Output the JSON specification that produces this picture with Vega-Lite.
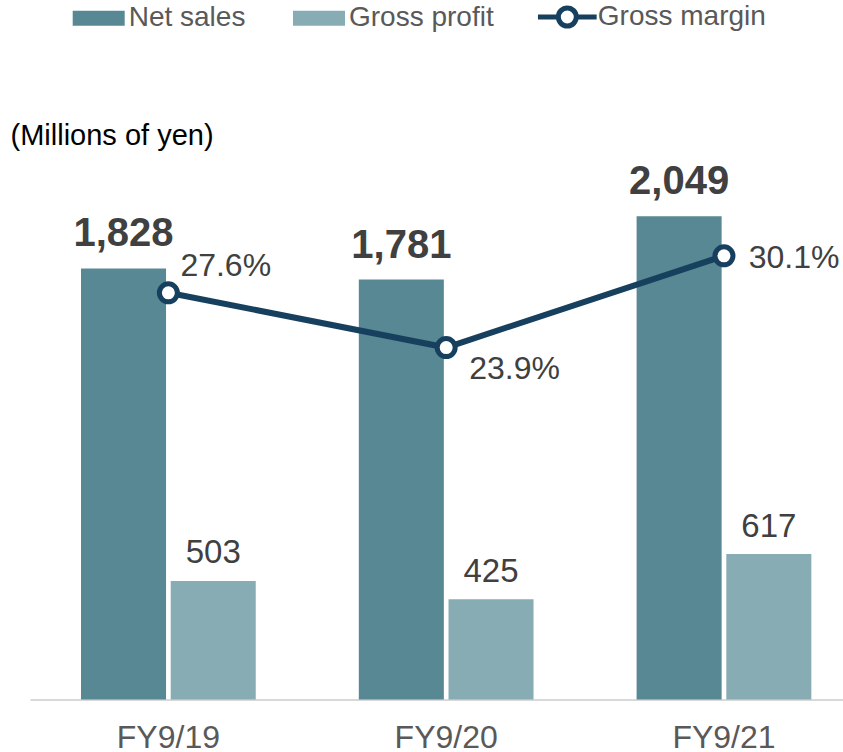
{
  "$schema": "https://vega.github.io/schema/vega-lite/v6.json",
  "autosize": "none",
  "width": 813,
  "height": 589.5,
  "padding": {"left": 30, "top": 110, "right": 0, "bottom": 52.5},
  "background": "white",
  "config": {
    "view": {"stroke": null},
    "font": "Liberation Sans",
    "text": {"font": "Liberation Sans"}
  },
  "datasets": {
    "sales": [
      {"year": "FY9/19", "series": "Net sales", "value": 1828},
      {"year": "FY9/19", "series": "Gross profit", "value": 503},
      {"year": "FY9/20", "series": "Net sales", "value": 1781},
      {"year": "FY9/20", "series": "Gross profit", "value": 425},
      {"year": "FY9/21", "series": "Net sales", "value": 2049},
      {"year": "FY9/21", "series": "Gross profit", "value": 617}
    ],
    "margin": [
      {"year": "FY9/19", "series": "Gross margin", "margin": 0.276},
      {"year": "FY9/20", "series": "Gross margin", "margin": 0.239},
      {"year": "FY9/21", "series": "Gross margin", "margin": 0.301}
    ]
  },
  "encoding": {
    "x": {
      "field": "year",
      "type": "nominal",
      "sort": ["FY9/19", "FY9/20", "FY9/21"],
      "scale": {"paddingInner": 0.371, "paddingOuter": 0.1488, "align": 0.617},
      "axis": {
        "title": null,
        "ticks": false,
        "tickSize": 0,
        "grid": false,
        "domainColor": "#d9d9d9",
        "domainWidth": 2,
        "labelFont": "Liberation Sans",
        "labelFontSize": 32,
        "labelColor": "#595959",
        "labelBaseline": "alphabetic",
        "labelPadding": 47.5,
        "labelAngle": 0
      }
    }
  },
  "layer": [
    {
      "data": {"name": "sales"},
      "encoding": {
        "xOffset": {
          "field": "series",
          "type": "nominal",
          "sort": ["Net sales", "Gross profit"],
          "scale": {"domain": ["Net sales", "Gross profit"], "paddingInner": 0.052, "paddingOuter": 0}
        },
        "y": {
          "field": "value",
          "type": "quantitative",
          "scale": {"domain": [0, 2500], "nice": false, "zero": false},
          "axis": {
            "title": "(Millions of yen)",
            "domain": false,
            "labels": false,
            "ticks": false,
            "grid": false,
            "titleAngle": 0,
            "titleAlign": "left",
            "titleBaseline": "alphabetic",
            "titleX": -20,
            "titleY": 34,
            "titleFont": "Liberation Sans",
            "titleFontSize": 29,
            "titleFontWeight": "normal",
            "titleColor": "#000000"
          }
        }
      },
      "layer": [
        {
          "mark": {"type": "bar"},
          "encoding": {
            "color": {
              "field": "series",
              "type": "nominal",
              "scale": {
                "domain": ["Net sales", "Gross profit"],
                "range": ["#588893", "#87acb4"]
              },
              "legend": {
                "orient": "none",
                "legendX": 42.7,
                "legendY": -117.7,
                "direction": "horizontal",
                "title": null,
                "symbolType": "M-1,-0.288H1V0.288H-1Z",
                "symbolSize": 2704,
                "symbolStrokeWidth": 0,
                "symbolOpacity": 1,
                "labelFont": "Liberation Sans",
                "labelFontSize": 28,
                "labelColor": "#595959",
                "labelOffset": 4,
                "labelLimit": 400,
                "columnPadding": 47.3,
                "padding": 0
              }
            }
          }
        },
        {
          "transform": [{"filter": "datum.series === 'Net sales'"}],
          "mark": {"type": "text", "fontSize": 40, "fontWeight": "bold", "color": "#404040", "baseline": "alphabetic", "align": "center", "dy": -22, "font": "Liberation Sans"},
          "encoding": {"text": {"field": "value", "type": "quantitative", "format": ","}}
        },
        {
          "transform": [{"filter": "datum.series === 'Gross profit'"}],
          "mark": {"type": "text", "fontSize": 33, "color": "#404040", "baseline": "alphabetic", "align": "center", "dy": -17.5, "font": "Liberation Sans"},
          "encoding": {"text": {"field": "value", "type": "quantitative", "format": ","}}
        }
      ]
    },
    {
      "data": {"name": "margin"},
      "encoding": {
        "y": {
          "field": "margin",
          "type": "quantitative",
          "scale": {"domain": [0.0012, 0.3995], "nice": false, "zero": false},
          "axis": null
        }
      },
      "layer": [
        {
          "mark": {"type": "line", "strokeWidth": 6},
          "encoding": {
            "stroke": {
              "field": "series",
              "type": "nominal",
              "scale": {"domain": ["Gross margin"], "range": ["#17405f"]},
              "legend": {
                "orient": "none",
                "legendX": 507.8,
                "legendY": -122.5,
                "direction": "horizontal",
                "title": null,
                "symbolType": "M-1.087,0H-0.333M0.333,0H1.087M0.333,0A0.333,0.333,0,1,1,-0.333,0A0.333,0.333,0,1,1,0.333,0",
                "symbolSize": 2916,
                "symbolStrokeWidth": 5,
                "symbolFillColor": "#ffffff",
                "symbolOpacity": 1,
                "labelFont": "Liberation Sans",
                "labelFontSize": 28,
                "labelColor": "#595959",
                "labelOffset": 1,
                "labelLimit": 400,
                "padding": 0
              }
            }
          }
        },
        {
          "mark": {"type": "point", "shape": "circle", "size": 324, "filled": false, "fill": "#ffffff", "fillOpacity": 1, "stroke": "#17405f", "strokeWidth": 5, "opacity": 1}
        },
        {
          "transform": [{"filter": "datum.year === 'FY9/19'"}],
          "mark": {"type": "text", "fontSize": 32, "color": "#404040", "baseline": "alphabetic", "align": "left", "dx": 12, "dy": -17, "font": "Liberation Sans"},
          "encoding": {"text": {"field": "margin", "type": "quantitative", "format": ".1%"}}
        },
        {
          "transform": [{"filter": "datum.year === 'FY9/20'"}],
          "mark": {"type": "text", "fontSize": 32, "color": "#404040", "baseline": "alphabetic", "align": "left", "dx": 23, "dy": 31.6, "font": "Liberation Sans"},
          "encoding": {"text": {"field": "margin", "type": "quantitative", "format": ".1%"}}
        },
        {
          "transform": [{"filter": "datum.year === 'FY9/21'"}],
          "mark": {"type": "text", "fontSize": 32, "color": "#404040", "baseline": "alphabetic", "align": "left", "dx": 24.7, "dy": 12.3, "font": "Liberation Sans"},
          "encoding": {"text": {"field": "margin", "type": "quantitative", "format": ".1%"}}
        }
      ]
    }
  ],
  "resolve": {"scale": {"y": "independent"}}
}
